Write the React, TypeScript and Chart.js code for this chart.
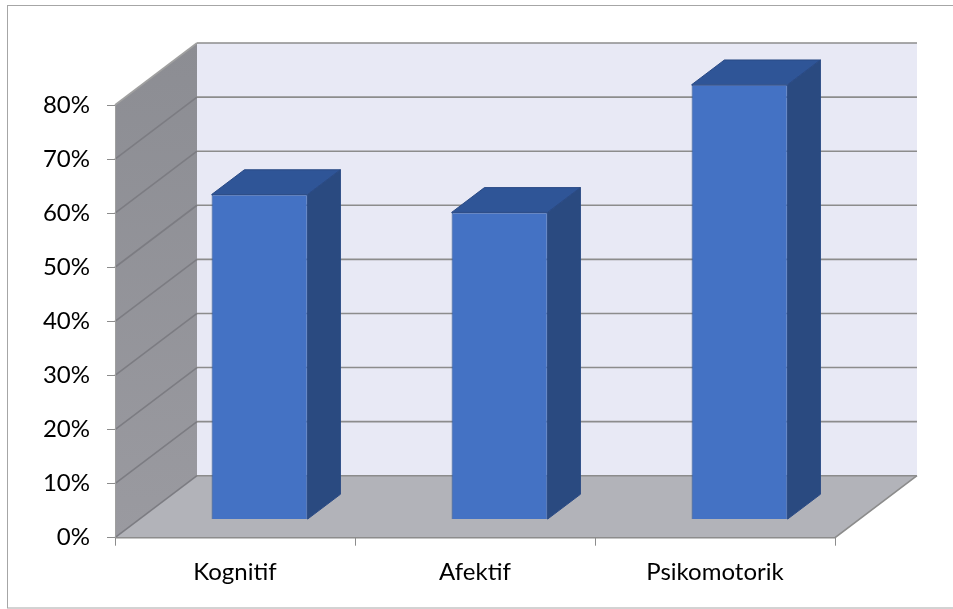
import React, { useEffect, useRef } from "react";
import { Chart, registerables } from "chart.js";

Chart.register(...registerables);

// ---- data ----
const categories: string[] = ["Kognitif", "Afektif", "Psikomotorik"];
const values: number[] = [0.6, 0.567, 0.803];
const yTickValues: number[] = [0, 0.1, 0.2, 0.3, 0.4, 0.5, 0.6, 0.7, 0.8];
const yMin = 0;
const yMax = 0.8;

// ---- 3D look (styling constants) ----
const W = 953;
const H = 609;
const AREA_LEFT = 115;
const AREA_TOP = 105;
const AREA_RIGHT = 835;
const AREA_BOTTOM = 537.7;
const DEPTH_X = 82;
const DEPTH_Y = 62;
const BAR_FRONT = 0.3;
const BAR_BACK = 0.7;

const PLOT_H = AREA_BOTTOM - AREA_TOP;
const CAT_W = (AREA_RIGHT - AREA_LEFT) / categories.length;
const Y_SHIFT = ((BAR_FRONT * DEPTH_Y) / PLOT_H) * (yMax - yMin);
const X_SHIFT = (BAR_FRONT * DEPTH_X) / CAT_W;

const FONT = { family: "Lato, 'Open Sans', sans-serif", size: 24 };
const GRID = "#8c8c8c";

const wallsPlugin = {
  id: "walls3d",
  beforeDraw(chart: any) {
    const ctx = chart.ctx;
    const { left: L, right: R, top: T, bottom: B } = chart.chartArea;
    const ys = chart.scales.y;
    ctx.save();
    ctx.fillStyle = "#ffffff";
    ctx.fillRect(0, 0, chart.width, chart.height);
    // outer border
    ctx.strokeStyle = "#a6a6a6";
    ctx.lineWidth = 1;
    ctx.strokeRect(7.5, 5.5, 960, 602.5);

    // back wall
    ctx.fillStyle = "#e8e9f5";
    ctx.fillRect(L + DEPTH_X, T - DEPTH_Y, R - L, B - T);
    // side wall
    const g = ctx.createLinearGradient(0, T - DEPTH_Y, 0, B);
    g.addColorStop(0, "#8c8d93");
    g.addColorStop(1, "#9a9aa0");
    ctx.fillStyle = g;
    ctx.beginPath();
    ctx.moveTo(L, B);
    ctx.lineTo(L, T);
    ctx.lineTo(L + DEPTH_X, T - DEPTH_Y);
    ctx.lineTo(L + DEPTH_X, B - DEPTH_Y);
    ctx.closePath();
    ctx.fill();
    // floor
    ctx.fillStyle = "#b2b3b9";
    ctx.beginPath();
    ctx.moveTo(L, B);
    ctx.lineTo(R, B);
    ctx.lineTo(R + DEPTH_X, B - DEPTH_Y);
    ctx.lineTo(L + DEPTH_X, B - DEPTH_Y);
    ctx.closePath();
    ctx.fill();

    // gridlines
    ctx.lineWidth = 1.6;
    yTickValues.forEach((v, i) => {
      const y = ys.getPixelForValue(v);
      const last = i === yTickValues.length - 1;
      // side-wall diagonal
      ctx.strokeStyle = last ? "#a0a0a0" : "#7c7c82";
      ctx.beginPath();
      ctx.moveTo(L, y);
      ctx.lineTo(L + DEPTH_X, y - DEPTH_Y);
      ctx.stroke();
      // back wall horizontal
      ctx.strokeStyle = GRID;
      ctx.beginPath();
      ctx.moveTo(L + DEPTH_X, y - DEPTH_Y);
      ctx.lineTo(R + DEPTH_X, y - DEPTH_Y);
      ctx.stroke();
    });
    // floor front and right edges
    ctx.strokeStyle = GRID;
    ctx.beginPath();
    ctx.moveTo(L, B);
    ctx.lineTo(R, B);
    ctx.lineTo(R + DEPTH_X, B - DEPTH_Y);
    ctx.stroke();
    // side wall front edge
    ctx.strokeStyle = "#9f9f9f";
    ctx.lineWidth = 1;
    ctx.beginPath();
    ctx.moveTo(L + 0.5, T);
    ctx.lineTo(L + 0.5, B);
    ctx.stroke();
    ctx.restore();
  },
  afterDatasetsDraw(chart: any) {
    const ctx = chart.ctx;
    const meta = chart.getDatasetMeta(0);
    const dx = (BAR_BACK - BAR_FRONT) * DEPTH_X;
    const dy = -(BAR_BACK - BAR_FRONT) * DEPTH_Y;
    ctx.save();
    ctx.lineWidth = 1;
    ctx.strokeStyle = "#2a4a85";
    meta.data.forEach((el: any) => {
      const { x, y, base, width } = el.getProps(["x", "y", "base", "width"], true);
      const l = x - width / 2;
      const r = x + width / 2;
      // top face
      ctx.fillStyle = "#2f5597";
      ctx.beginPath();
      ctx.moveTo(l, y);
      ctx.lineTo(l + dx, y + dy);
      ctx.lineTo(r + dx, y + dy);
      ctx.lineTo(r, y);
      ctx.closePath();
      ctx.fill();
      ctx.stroke();
      // side face
      ctx.fillStyle = "#2a4a80";
      ctx.beginPath();
      ctx.moveTo(r, y);
      ctx.lineTo(r + dx, y + dy);
      ctx.lineTo(r + dx, base + dy);
      ctx.lineTo(r, base);
      ctx.closePath();
      ctx.fill();
      ctx.stroke();
    });
    ctx.restore();
  },
};

export default function App() {
  const ref = useRef<HTMLCanvasElement | null>(null);

  useEffect(() => {
    document.body.style.margin = "0";
    if (!ref.current) return;
    const chart = new Chart(ref.current, {
      type: "bar",
      data: {
        labels: categories,
        datasets: [
          {
            data: values.map((v, i) => ({ x: i, y: v })),
            xAxisID: "x2",
            yAxisID: "y2",
            backgroundColor: "#4472c4",
            borderColor: "#2f528f",
            borderWidth: 1,
            barPercentage: 0.4,
            categoryPercentage: 1,
            clip: false,
          } as any,
        ],
      },
      options: {
        responsive: false,
        animation: false,
        devicePixelRatio: 1,
        layout: { padding: { top: AREA_TOP, right: W - AREA_RIGHT, left: 0, bottom: 0 } },
        plugins: { legend: { display: false }, tooltip: { enabled: false } },
        scales: {
          x: {
            type: "category",
            offset: true,
            grid: { offset: true, drawOnChartArea: false, drawTicks: true, tickLength: 8, color: GRID, lineWidth: 1 },
            border: { display: false },
            ticks: { color: "#000", font: FONT, padding: 12, maxRotation: 0 },
            afterFit: (s: any) => {
              s.height = H - AREA_BOTTOM;
            },
          },
          y: {
            type: "linear",
            min: yMin,
            max: yMax,
            grid: { drawOnChartArea: false, drawTicks: true, tickLength: 8, color: GRID, lineWidth: 1 },
            border: { display: false },
            afterBuildTicks: (s: any) => {
              s.ticks = yTickValues.map((v) => ({ value: v }));
            },
            ticks: {
              color: "#000",
              font: FONT,
              padding: 17,
              callback: (v: any) => Math.round(Number(v) * 100) + "%",
            },
            afterFit: (s: any) => {
              s.width = AREA_LEFT;
            },
          },
          x2: {
            type: "linear",
            display: false,
            offset: false,
            min: -0.5 - X_SHIFT,
            max: categories.length - 0.5 - X_SHIFT,
            grid: { offset: false },
            afterBuildTicks: (s: any) => {
              s.ticks = categories.map((_, i) => ({ value: i }));
            },
          },
          y2: {
            type: "linear",
            display: false,
            min: yMin - Y_SHIFT,
            max: yMax - Y_SHIFT,
          },
        },
      } as any,
      plugins: [wallsPlugin],
    });
    return () => chart.destroy();
  }, []);

  return <canvas ref={ref} width={W} height={H} style={{ display: "block" }} />;
}
